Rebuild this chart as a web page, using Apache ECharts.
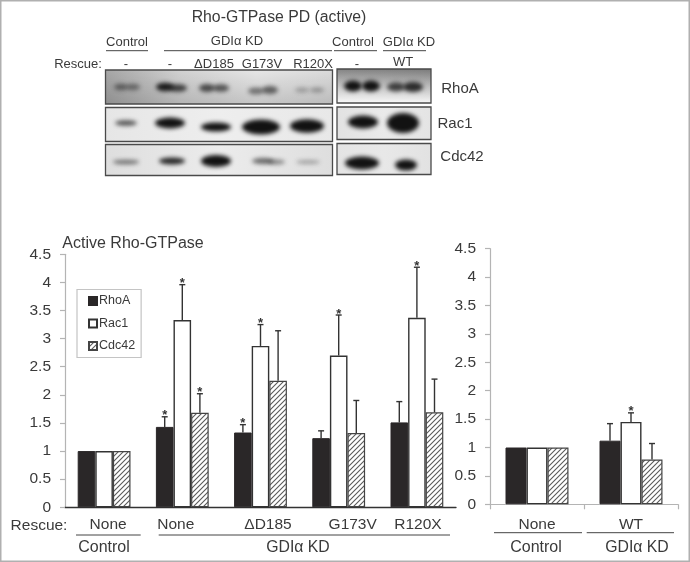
<!DOCTYPE html>
<html><head><meta charset="utf-8">
<style>html,body{margin:0;padding:0;background:#fff}#c{width:690px;height:562px}</style>
<script src="https://cdn.jsdelivr.net/npm/echarts@6/dist/echarts.min.js"></script>
</head><body><div id="c"></div>
<script>
// ---- data ----
const leftCategories = ['None','None','ΔD185','G173V','R120X'];
const rightCategories = ['None','WT'];
const seriesNames = ['RhoA','Rac1','Cdc42'];
const yTicks = [0,0.5,1,1.5,2,2.5,3,3.5,4,4.5];
const leftRhoA  = [1,1.43,1.33,1.23,1.51];
const leftRac1  = [1,3.33,2.87,2.70,3.37];
const leftCdc42 = [1,1.68,2.25,1.32,1.69];
const leftRhoAUpper  = [null,1.61,1.47,1.36,1.88];
const leftRac1Upper  = [null,3.96,3.25,3.42,4.27];
const leftCdc42Upper = [null,2.02,3.14,1.90,2.28];
const leftRhoAStar  = [0,1,1,0,0];
const leftRac1Star  = [0,1,1,1,1];
const leftCdc42Star = [0,1,0,0,0];
const rightRhoA  = [1,1.12];
const rightRac1  = [1,1.45];
const rightCdc42 = [1,0.79];
const rightRhoAUpper  = [null,1.42];
const rightRac1Upper  = [null,1.61];
const rightCdc42Upper = [null,1.07];
const rightRhoAStar  = [0,0];
const rightRac1Star  = [0,1];
const rightCdc42Star = [0,0];
// western-blot bands: [cx, cy, rx, ry, opacity]
const blotBands = [
 [121,87,7,3.2,.5],[133,87,7,3.2,.45],[165,87,9,4.2,.95],[178,88,9,3.8,.75],[207,88,8,4,.7],[221,88,8,3.8,.65],[256,91,8,3.4,.5],[270,90,8,4,.6],[302,90,7,2.6,.28],[317,90,7,2.6,.32],
 [126,123,11,2.8,.7],[170,123,15,5.4,1],[216,127,15,4.6,1],[261,127,19,7.4,1],[307,126,17,6.8,1],
 [126,162,13,2.3,.55],[172,161,13,3.4,.9],[216,161,15,6,1],[263,161,11,3,.6],[276,162,9,2.6,.45],[308,162,12,2,.32],
 [353,86,9,5.4,1],[371,86,9,5.4,1],[396,87,9,4.4,.75],[413,87,10,5,.85],
 [363,122,15,6.4,1],[403,123,16,10,1],
 [362,163,17,6.4,1],[406,165,11,5.6,1]
];
// [x, y, w, h, colours of a horizontal gradient, top-to-bottom darkening]
const blotPanels = [
 [105.5,70,227,34,['#a6a6a6','#d2d2d2','#e6e6e6','#dadada'],.14],
 [105.5,107.5,227,34,['#e6e6e6','#eeeeee','#e8e8e8'],0],
 [105.5,144.5,227,31,['#dedede','#ececec','#dedede'],0],
 [337,69,94,34,['#bcbcbc','#b8b8b8','#b0b0b0'],-.3],
 [337,107,94,32.5,['#e2e2e2','#eaeaea','#e4e4e4'],0],
 [337,143.5,94,31,['#e4e4e4','#e8e8e8','#e2e2e2'],0]
];
// [text, cx, cy, size]
const textLabels = [
 ['Rho-GTPase PD (active)',279,17.5,15.8],
 ['Control',127,42,13],['GDIα KD',237,41,13],['Control',353,42,13],['GDIα KD',409,42,13],
 ['Rescue:',78,64.5,13],['-',126,64,13],['-',170,64,13],['ΔD185',214,64,13],['G173V',262,64,13],['R120X',313,64,13],['-',357,64,13],['WT',403,62,13],
 ['RhoA',460,88.5,15],['Rac1',455,123.5,15],['Cdc42',462,157,15],
 ['Active Rho-GTPase',133,243.5,16],
 ['Rescue:',39,525.5,15.5],['Control',104,547.5,16],['GDIα KD',298,547.5,15.8],['Control',536,547.5,16],['GDIα KD',637,547.5,15.8]
];
// [x1, x2, y]
const rules = [[106,148,50.7],[164,332,50.7],[334,377,50.7],[383,426,50.7],[76,140.7,535],[158.7,450,535],[494,582,532.7],[586.7,674,532.7]];
const leftLabelShift = [4,-6.5,7.5,14,1];

// ---- styles ----
const FONT = '"Liberation Sans", Arial, sans-serif';
const TXT = '#3a3a3a', AX = '#b4b4b4', DARK = '#2a2728';
const tile = document.createElement('canvas'); tile.width = tile.height = 5;
(function(){const g=tile.getContext('2d');g.fillStyle='#fff';g.fillRect(0,0,5,5);g.strokeStyle='#5a5a5a';g.lineWidth=1.1;
 g.beginPath();g.moveTo(-1,6);g.lineTo(6,-1);g.moveTo(-1,1);g.lineTo(1,-1);g.moveTo(4,6);g.lineTo(6,4);g.stroke();})();
const seriesStyles = [
 {color:DARK,borderColor:DARK,borderWidth:1},
 {color:'#fff',borderColor:'#333',borderWidth:1.4},
 {color:{image:tile,repeat:'repeat'},borderColor:'#444',borderWidth:1.2}
];

function barSeries(name,vals,ax,width,i){
 return {type:'bar',name,data:vals,xAxisIndex:ax,yAxisIndex:ax,barWidth:width,barGap:'0%',itemStyle:seriesStyles[i],z:2};
}
function errSeries(ax,width,means,uppers,stars){
 const data=[];
 uppers.forEach((u,s)=>u.forEach((v,c)=>{ if(v!=null) data.push([c,s-1,v,stars[s][c],means[s][c]]); }));
 return {type:'custom',xAxisIndex:ax,yAxisIndex:ax,z:5,clip:false,silent:true,encode:{x:0,y:2},data,
  renderItem(p,api){
   const x=api.coord([api.value(0),0])[0]+api.value(1)*width;
   const yTop=api.coord([0,api.value(2)])[1], yMean=api.coord([0,api.value(4)])[1];
   const line=(a,b,c,d)=>({type:'line',shape:{x1:a,y1:b,x2:c,y2:d},style:{stroke:'#333',lineWidth:1.4}});
   const ch=[line(x,yTop,x,yMean),line(x-3,yTop,x+3,yTop)];
   if(api.value(3)) ch.push({type:'text',style:{text:'*',x:x,y:yTop-1,align:'center',verticalAlign:'middle',fill:'#333',font:'bold 13px '+FONT}});
   return {type:'group',children:ch};
  }};
}
// blurred film picture of the blots
const film=document.createElement('canvas');film.width=690;film.height=190;
(function(){
 const f=film.getContext('2d');
 blotPanels.forEach(p=>{
  f.save();f.beginPath();f.rect(p[0],p[1],p[2],p[3]);f.clip();
  const lg=f.createLinearGradient(p[0],0,p[0]+p[2],0);
  p[4].forEach((c,i)=>lg.addColorStop(i/(p[4].length-1),c));
  f.fillStyle=lg;f.fillRect(p[0],p[1],p[2],p[3]);
  if(p[5]){
   const vg=f.createLinearGradient(0,p[1],0,p[1]+p[3]);
   if(p[5]>0){vg.addColorStop(0,'rgba(0,0,0,0)');vg.addColorStop(1,'rgba(0,0,0,'+p[5]+')');f.fillStyle=vg;}
   else{vg.addColorStop(0,'rgba(0,0,0,'+(-p[5])+')');vg.addColorStop(.6,'rgba(255,255,255,.3)');vg.addColorStop(1,'rgba(255,255,255,.9)');f.fillStyle=vg;}
   f.fillRect(p[0],p[1],p[2],p[3]);
  }
  f.filter='blur(2.2px)';
  blotBands.forEach(b=>{f.fillStyle='rgba(18,18,18,'+b[4]+')';f.beginPath();f.ellipse(b[0],b[1],b[2],b[3],0,0,Math.PI*2);f.fill();});
  f.filter='none';f.restore();
 });
})();
const g=[];
g.push({type:'rect',shape:{x:0.5,y:0.5,width:689,height:561},style:{fill:'none',stroke:'#b0b0b0',lineWidth:2},z:0});
g.push({type:'image',z:2,style:{image:film,x:0,y:0,width:690,height:190}});
blotPanels.forEach(p=>{
 g.push({type:'rect',shape:{x:p[0],y:p[1],width:p[2],height:p[3]},z:3,style:{fill:'none',stroke:'#4a4a4a',lineWidth:1.3}});
});
textLabels.forEach(t=>g.push({type:'text',z:4,style:{text:t[0],x:t[1],y:t[2],align:'center',verticalAlign:'middle',fill:TXT,font:t[3]+'px '+FONT}}));
rules.forEach(r=>g.push({type:'line',z:4,shape:{x1:r[0],y1:r[2],x2:r[1],y2:r[2]},style:{stroke:'#444',lineWidth:1}}));

const yAxisBase={type:'value',min:0,max:4.5,interval:0.5,splitLine:{show:false},
 axisLine:{show:true,lineStyle:{color:AX,width:1.2}},axisTick:{show:true,length:5,lineStyle:{color:AX,width:1.2}},
 axisLabel:{color:TXT,fontSize:15.5,fontFamily:FONT,margin:14,formatter:v=>yTicks.includes(v)?String(v):''}};
const rich={};
leftLabelShift.forEach((o,i)=>{rich['s'+i]={color:TXT,fontSize:15.5,fontFamily:FONT,padding:o>0?[0,0,0,2*o]:[0,-2*o,0,0]};});

const chart=echarts.init(document.getElementById('c'),null,{renderer:'canvas',width:690,height:562});
chart.setOption({
 animation:false,backgroundColor:'#fff',
 graphic:g,
 grid:[{left:65,top:254.3,width:391,height:253,containLabel:false},{left:490,top:248.7,width:188,height:255.6,containLabel:false}],
 legend:{data:seriesNames.map(n=>({name:n,icon:'rect'})),orient:'vertical',left:77,top:289.5,width:68,height:63,padding:[5,6,5,11],itemGap:9.5,itemWidth:8,itemHeight:8,
  selectedMode:false,borderColor:'#c4c4c4',borderWidth:1.2,backgroundColor:'#fff',
  textStyle:{color:TXT,fontSize:12.5,fontFamily:FONT,padding:[0,0,0,-3]}},
 xAxis:[
  {type:'category',gridIndex:0,data:leftCategories,axisLine:{lineStyle:{color:'#333',width:1.3}},axisTick:{show:false},
   axisLabel:{margin:9,interval:0,formatter:(v,i)=>'{s'+i+'|'+v+'}',rich}},
  {type:'category',gridIndex:1,data:rightCategories,axisLine:{lineStyle:{color:AX,width:1.2}},axisTick:{show:true,length:5,lineStyle:{color:AX,width:1.2}},
   axisLabel:{margin:12,interval:0,color:TXT,fontSize:15.5,fontFamily:FONT}}
 ],
 yAxis:[Object.assign({gridIndex:0},yAxisBase),Object.assign({gridIndex:1},yAxisBase)],
 series:[
  barSeries('RhoA',leftRhoA,0,17.6,0),barSeries('Rac1',leftRac1,0,17.6,1),barSeries('Cdc42',leftCdc42,0,17.6,2),
  errSeries(0,17.6,[leftRhoA,leftRac1,leftCdc42],[leftRhoAUpper,leftRac1Upper,leftCdc42Upper],[leftRhoAStar,leftRac1Star,leftCdc42Star]),
  barSeries('RhoA',rightRhoA,1,21,0),barSeries('Rac1',rightRac1,1,21,1),barSeries('Cdc42',rightCdc42,1,21,2),
  errSeries(1,21,[rightRhoA,rightRac1,rightCdc42],[rightRhoAUpper,rightRac1Upper,rightCdc42Upper],[rightRhoAStar,rightRac1Star,rightCdc42Star])
 ]
});
</script></body></html>
